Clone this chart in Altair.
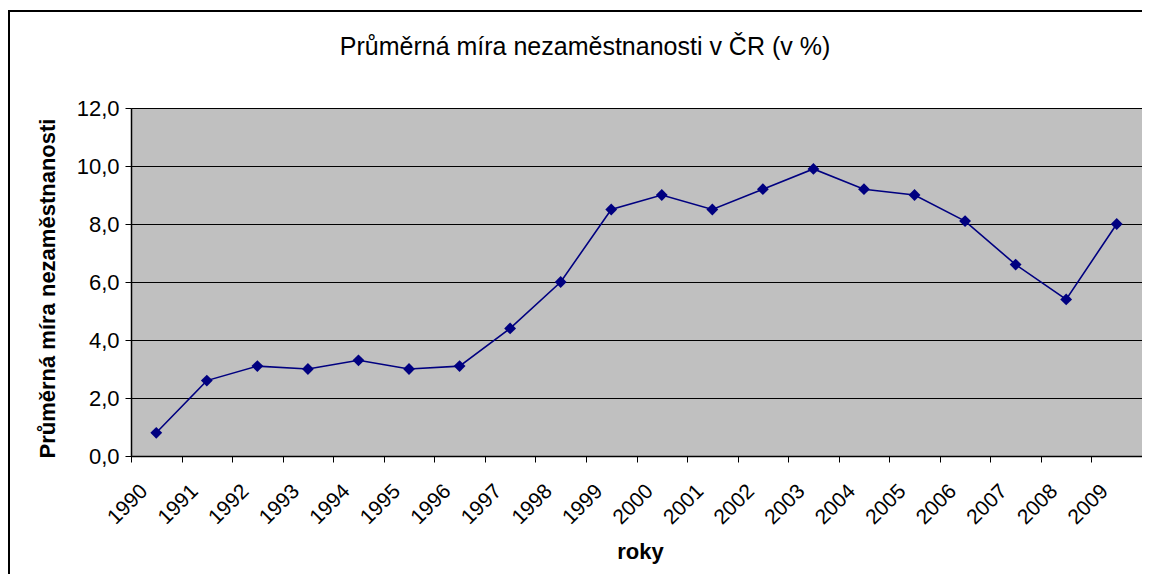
import altair as alt
import pandas as pd

roky = ["1990", "1991", "1992", "1993", "1994", "1995", "1996", "1997", "1998", "1999",
        "2000", "2001", "2002", "2003", "2004", "2005", "2006", "2007", "2008", "2009"]
mira = [0.8, 2.6, 3.1, 3.0, 3.3, 3.0, 3.1, 4.4, 6.0, 8.5,
        9.0, 8.5, 9.2, 9.9, 9.2, 9.0, 8.1, 6.6, 5.4, 8.0]
y_ticks = [0, 2, 4, 6, 8, 10, 12]

title_text = "Průměrná míra nezaměstnanosti v ČR (v %)"
y_title = "Průměrná míra nezaměstnanosti"
x_title = "roky"

df = pd.DataFrame({"rok": roky, "mira": mira})
FONT = "Liberation Sans"
NAVY = "#000080"
W = 1011

x_enc = alt.X(
    "rok:O",
    sort=roky,
    scale=alt.Scale(type="band", paddingInner=0, paddingOuter=0),
    axis=alt.Axis(
        title=x_title,
        labelAngle=-45,
        labelFontSize=21,
        labelFont=FONT,
        labelColor="black",
        labelPadding=18,
        labelOffset=-20,
        tickBand="extent",
        tickSize=6,
        tickColor="black",
        domainColor="black",
        domainWidth=1.5,
        titleFont=FONT,
        titleFontSize=22,
        titleFontWeight="bold",
        titleColor="black",
        titleX=509,
        titleY=95,
        titleBaseline="middle",
        titleAlign="center",
        grid=False,
    ),
)
y_enc = alt.Y(
    "mira:Q",
    scale=alt.Scale(domain=[0, 12], nice=False),
    axis=alt.Axis(
        title=y_title,
        values=y_ticks,
        labelExpr="replace(format(datum.value, '.1f'), '.', ',')",
        labelFontSize=22,
        labelFont=FONT,
        labelColor="black",
        labelPadding=6,
        tickSize=6,
        tickColor="black",
        domainColor="black",
        domainWidth=1.5,
        grid=True,
        gridColor="black",
        gridWidth=1,
        gridOpacity=1,
        titleFont=FONT,
        titleFontSize=22,
        titleFontWeight="bold",
        titleColor="black",
        titleAngle=-90,
        titleX=-84,
        titleY=180,
        titleBaseline="middle",
        titleAlign="center",
    ),
)

base = alt.Chart(df)
line = base.mark_line(color=NAVY, strokeWidth=1.6).encode(x=x_enc, y=y_enc)
points = base.mark_point(shape="diamond", filled=True, color=NAVY, size=140, opacity=1).encode(x=x_enc, y=y_enc)

one = alt.Data(values=[{}])
frame = alt.Chart(one).mark_rect(
    filled=False, stroke="black", strokeWidth=2
).encode(
    x=alt.value(-122), x2=alt.value(1100), y=alt.value(-97), y2=alt.value(700)
)
title = alt.Chart(one).mark_text(
    text=title_text, font=FONT, fontSize=25, color="black", align="center", baseline="middle"
).encode(x=alt.value(454), y=alt.value(-61))

chart = alt.layer(line, points, frame, title).properties(
    width=W,
    height=348,
    autosize=alt.AutoSizeParams(type="none"),
    padding={"left": 123, "top": 100, "right": 0, "bottom": 118},
    background="white",
).configure_view(
    fill="#C0C0C0", stroke="#808080", strokeWidth=1
)

chart.save("out.html", embed_options={"renderer": "svg", "actions": False})
